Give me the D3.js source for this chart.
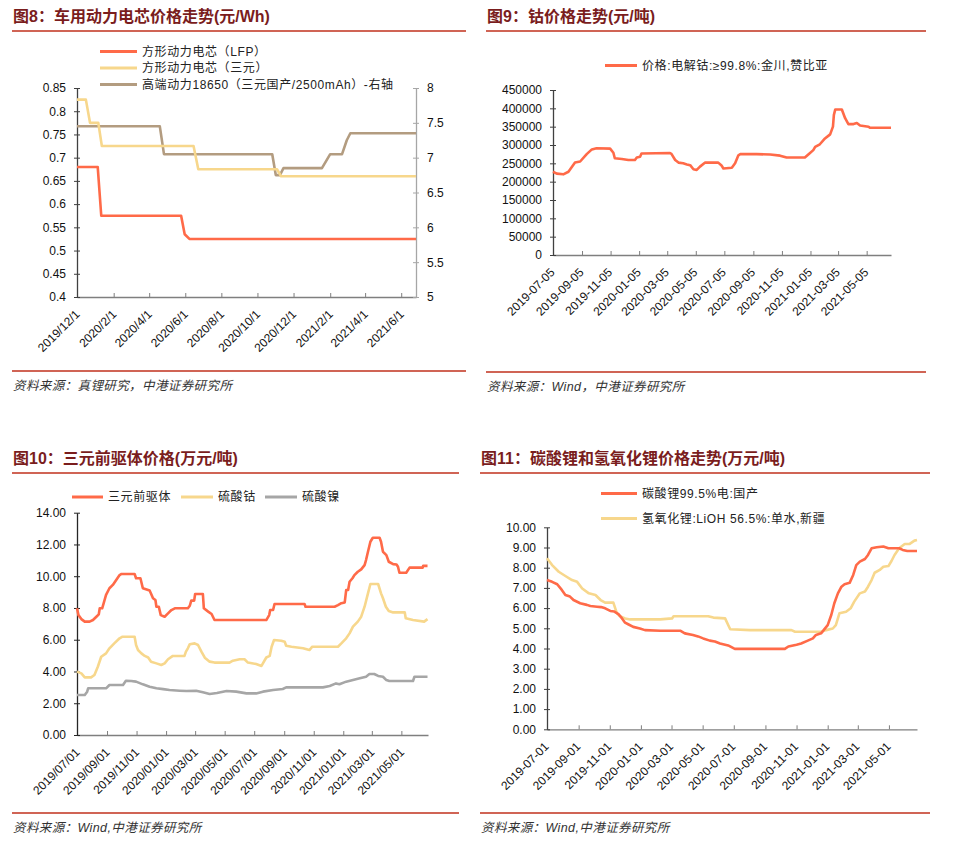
<!DOCTYPE html>
<html lang="zh">
<head>
  <meta charset="UTF-8" />
  <title>电池材料价格走势</title>
  <script src="https://d3js.org/d3.v7.min.js"></script>
  <style>
    html, body { margin: 0; padding: 0; background: #fff; }
    svg { display: block; }
  </style>
</head>
<body>
  <svg id="chart" width="960" height="851"></svg>

  <script>
    // ---- 图8 车用动力电芯价格 ----
    const fig8Domain = ["2019-12-01", "2021-06-26"];
    const fig8Ticks = ["2019-12-01", "2020-02-01", "2020-04-01", "2020-06-01", "2020-08-01",
      "2020-10-01", "2020-12-01", "2021-02-01", "2021-04-01", "2021-06-01"];
    const fig8LeftTicks = [0.4, 0.45, 0.5, 0.55, 0.6, 0.65, 0.7, 0.75, 0.8, 0.85];
    const fig8RightTicks = [5, 5.5, 6, 6.5, 7, 7.5, 8];
    const fig8Names = ["方形动力电芯（LFP）", "方形动力电芯（三元）", "高端动力18650（三元国产/2500mAh）-右轴"];
    const fig8Lfp = [["2019-12-01", 0.68], ["2020-01-05", 0.68], ["2020-01-11", 0.575], ["2020-05-25", 0.575],
      ["2020-05-31", 0.535], ["2020-06-08", 0.525], ["2021-06-26", 0.525]];
    const fig8Ncm = [["2019-12-01", 0.825], ["2019-12-16", 0.825], ["2019-12-23", 0.775], ["2020-01-06", 0.775],
      ["2020-01-12", 0.725], ["2020-06-15", 0.725], ["2020-06-23", 0.675], ["2020-11-03", 0.675],
      ["2020-11-10", 0.66], ["2021-06-26", 0.66]];
    const fig8Cell18650 = [["2019-12-01", 7.45], ["2020-04-19", 7.45], ["2020-04-26", 7.05], ["2020-10-26", 7.05],
      ["2020-11-01", 6.75], ["2020-11-08", 6.75], ["2020-11-14", 6.85], ["2021-01-18", 6.85],
      ["2021-02-01", 7.05], ["2021-02-21", 7.05], ["2021-03-01", 7.25], ["2021-03-07", 7.35], ["2021-06-26", 7.35]];

    // ---- 图9 钴价格 ----
    const fig9Domain = ["2019-07-05", "2021-06-26"];
    const fig9Ticks = ["2019-07-05", "2019-09-05", "2019-11-05", "2020-01-05", "2020-03-05", "2020-05-05",
      "2020-07-05", "2020-09-05", "2020-11-05", "2021-01-05", "2021-03-05", "2021-05-05"];
    const fig9YTicks = [0, 50000, 100000, 150000, 200000, 250000, 300000, 350000, 400000, 450000];
    const fig9Name = "价格:电解钴:≥99.8%:金川,赞比亚";
    const fig9Cobalt = [["2019-07-05", 227000], ["2019-07-13", 222000], ["2019-07-27", 220000], ["2019-08-07", 227000],
      ["2019-08-21", 252000], ["2019-09-01", 255000], ["2019-09-15", 275000], ["2019-09-26", 288000],
      ["2019-10-06", 291000], ["2019-11-04", 290000], ["2019-11-11", 279000], ["2019-11-14", 264000],
      ["2019-11-29", 262000], ["2019-12-13", 259000], ["2019-12-27", 259000], ["2019-12-31", 266000],
      ["2020-01-07", 268000], ["2020-01-10", 277000], ["2020-03-11", 278000], ["2020-03-14", 276000],
      ["2020-03-22", 259000], ["2020-03-29", 252000], ["2020-04-08", 250000], ["2020-04-16", 247000],
      ["2020-04-23", 245000], ["2020-04-30", 234000], ["2020-05-07", 232000], ["2020-05-14", 241000],
      ["2020-05-25", 252000], ["2020-06-22", 252000], ["2020-06-29", 244000], ["2020-07-03", 236000],
      ["2020-07-21", 238000], ["2020-07-28", 250000], ["2020-08-04", 272000], ["2020-08-08", 275000],
      ["2020-09-12", 275000], ["2020-10-11", 274000], ["2020-11-01", 271000], ["2020-11-15", 266000],
      ["2020-12-24", 266000], ["2021-01-01", 275000], ["2021-01-11", 286000], ["2021-01-15", 295000],
      ["2021-01-25", 302000], ["2021-02-05", 318000], ["2021-02-16", 329000], ["2021-02-22", 350000],
      ["2021-02-24", 382000], ["2021-02-27", 397000], ["2021-03-13", 397000], ["2021-03-20", 373000],
      ["2021-03-27", 357000], ["2021-04-07", 357000], ["2021-04-14", 360000], ["2021-04-21", 353000],
      ["2021-05-09", 350000], ["2021-05-12", 347000], ["2021-06-26", 347000]];

    // ---- 图10 三元前驱体价格 ----
    const fig10Domain = ["2019-07-01", "2021-06-25"];
    const fig10Ticks = ["2019-07-01", "2019-09-01", "2019-11-01", "2020-01-01", "2020-03-01", "2020-05-01",
      "2020-07-01", "2020-09-01", "2020-11-01", "2021-01-01", "2021-03-01", "2021-05-01"];
    const fig10YTicks = [0, 2, 4, 6, 8, 10, 12, 14];
    const fig10Names = ["三元前驱体", "硫酸钴", "硫酸镍"];
    const fig10Precursor = [["2019-07-01", 7.98], ["2019-07-04", 7.55], ["2019-07-10", 7.3], ["2019-07-17", 7.14],
      ["2019-07-27", 7.14], ["2019-08-03", 7.24], ["2019-08-10", 7.45], ["2019-08-15", 7.6], ["2019-08-17", 7.98],
      ["2019-08-22", 7.98], ["2019-08-25", 8.29], ["2019-08-30", 8.82], ["2019-09-06", 9.24], ["2019-09-13", 9.45],
      ["2019-09-20", 9.76], ["2019-09-27", 10.07], ["2019-10-01", 10.14], ["2019-10-28", 10.14], ["2019-10-31", 9.87],
      ["2019-11-09", 9.87], ["2019-11-14", 9.24], ["2019-11-28", 9.1], ["2019-12-01", 8.9], ["2019-12-05", 8.61],
      ["2019-12-10", 8.5], ["2019-12-12", 8.08], ["2019-12-17", 8.08], ["2019-12-21", 7.55], ["2019-12-29", 7.45],
      ["2020-01-05", 7.66], ["2020-01-12", 7.87], ["2020-01-19", 7.98], ["2020-02-15", 7.98], ["2020-02-19", 8.14],
      ["2020-02-22", 8.46], ["2020-02-28", 8.46], ["2020-03-01", 8.88], ["2020-03-17", 8.88], ["2020-03-19", 7.98],
      ["2020-03-28", 7.77], ["2020-04-04", 7.62], ["2020-04-10", 7.24], ["2020-07-26", 7.24], ["2020-08-01", 7.55],
      ["2020-08-03", 7.87], ["2020-08-09", 7.87], ["2020-08-12", 8.25], ["2020-10-13", 8.25], ["2020-10-15", 8.08],
      ["2020-12-14", 8.08], ["2020-12-21", 8.18], ["2020-12-28", 8.3], ["2021-01-04", 8.35], ["2021-01-07", 9.13],
      ["2021-01-11", 9.13], ["2021-01-14", 9.65], ["2021-01-20", 9.87], ["2021-01-24", 10.07], ["2021-01-31", 10.28],
      ["2021-02-07", 10.43], ["2021-02-14", 10.7], ["2021-02-17", 11.02], ["2021-02-21", 11.54], ["2021-02-26", 12.17],
      ["2021-03-03", 12.42], ["2021-03-17", 12.42], ["2021-03-20", 12.17], ["2021-03-24", 11.54], ["2021-03-31", 11.33],
      ["2021-04-05", 10.91], ["2021-04-14", 10.76], ["2021-04-21", 10.74], ["2021-04-24", 10.6], ["2021-04-27", 10.22],
      ["2021-05-11", 10.22], ["2021-05-18", 10.54], ["2021-06-14", 10.54], ["2021-06-15", 10.65], ["2021-06-24", 10.65]];
    const fig10CoSulfate = [["2019-07-01", 3.99], ["2019-07-10", 3.88], ["2019-07-17", 3.63], ["2019-07-30", 3.63],
      ["2019-08-06", 3.78], ["2019-08-13", 4.3], ["2019-08-20", 4.93], ["2019-08-30", 5.14], ["2019-09-06", 5.46],
      ["2019-09-16", 5.77], ["2019-09-27", 6.09], ["2019-10-03", 6.19], ["2019-10-28", 6.19], ["2019-10-31", 5.67],
      ["2019-11-04", 5.35], ["2019-11-11", 5.14], ["2019-11-18", 4.98], ["2019-11-25", 4.88], ["2019-12-01", 4.62],
      ["2019-12-12", 4.51], ["2019-12-22", 4.41], ["2019-12-29", 4.51], ["2020-01-05", 4.77], ["2020-01-15", 4.98],
      ["2020-02-08", 4.98], ["2020-02-11", 5.25], ["2020-02-15", 5.46], ["2020-02-19", 5.72], ["2020-02-29", 5.77],
      ["2020-03-07", 5.67], ["2020-03-14", 5.25], ["2020-03-21", 4.87], ["2020-03-31", 4.62], ["2020-04-10", 4.56],
      ["2020-05-11", 4.56], ["2020-05-18", 4.68], ["2020-06-01", 4.77], ["2020-06-11", 4.77], ["2020-06-18", 4.56],
      ["2020-07-05", 4.47], ["2020-07-16", 4.35], ["2020-07-19", 4.51], ["2020-07-26", 4.88], ["2020-08-02", 4.98],
      ["2020-08-06", 5.56], ["2020-08-11", 5.98], ["2020-08-26", 5.94], ["2020-09-02", 5.88], ["2020-09-05", 5.62],
      ["2020-09-16", 5.56], ["2020-10-10", 5.46], ["2020-10-23", 5.35], ["2020-10-29", 5.56], ["2020-12-21", 5.56],
      ["2020-12-28", 5.77], ["2021-01-07", 6.09], ["2021-01-14", 6.4], ["2021-01-21", 6.82], ["2021-01-31", 7.14],
      ["2021-02-07", 7.45], ["2021-02-14", 8.08], ["2021-02-21", 8.92], ["2021-02-26", 9.51], ["2021-03-14", 9.51],
      ["2021-03-20", 8.92], ["2021-03-24", 8.61], ["2021-03-30", 8.08], ["2021-04-05", 7.81], ["2021-04-14", 7.72],
      ["2021-05-08", 7.72], ["2021-05-10", 7.35], ["2021-05-25", 7.24], ["2021-06-17", 7.14], ["2021-06-24", 7.3]];
    const fig10NiSulfate = [["2019-07-01", 2.52], ["2019-07-17", 2.52], ["2019-07-22", 2.73], ["2019-07-24", 2.94],
      ["2019-08-30", 2.94], ["2019-09-06", 3.15], ["2019-10-04", 3.15], ["2019-10-10", 3.42], ["2019-10-21", 3.4],
      ["2019-10-31", 3.36], ["2019-11-14", 3.19], ["2019-11-28", 3.04], ["2019-12-12", 2.94], ["2019-12-26", 2.89],
      ["2020-01-08", 2.83], ["2020-01-29", 2.79], ["2020-02-12", 2.77], ["2020-03-03", 2.79], ["2020-03-17", 2.69],
      ["2020-03-31", 2.58], ["2020-04-15", 2.65], ["2020-05-05", 2.77], ["2020-05-25", 2.73], ["2020-06-15", 2.62],
      ["2020-07-05", 2.62], ["2020-07-19", 2.73], ["2020-08-09", 2.83], ["2020-08-29", 2.9], ["2020-09-05", 3.0],
      ["2020-11-20", 3.0], ["2020-12-04", 3.09], ["2020-12-17", 3.25], ["2020-12-24", 3.2], ["2021-01-07", 3.36],
      ["2021-01-21", 3.46], ["2021-02-04", 3.57], ["2021-02-17", 3.67], ["2021-02-24", 3.84], ["2021-03-06", 3.84],
      ["2021-03-14", 3.72], ["2021-03-24", 3.67], ["2021-03-31", 3.46], ["2021-04-06", 3.4], ["2021-05-25", 3.4],
      ["2021-05-28", 3.67], ["2021-06-24", 3.67]];

    // ---- 图11 碳酸锂和氢氧化锂价格 ----
    const fig11Domain = ["2019-07-01", "2021-06-25"];
    const fig11Ticks = fig10Ticks;
    const fig11YTicks = [0, 1, 2, 3, 4, 5, 6, 7, 8, 9, 10];
    const fig11Names = ["碳酸锂99.5%电:国产", "氢氧化锂:LiOH 56.5%:单水,新疆"];
    const fig11Li2co3 = [["2019-07-01", 7.39], ["2019-07-11", 7.3], ["2019-07-21", 7.18], ["2019-07-30", 6.9],
      ["2019-08-06", 6.65], ["2019-08-15", 6.57], ["2019-08-22", 6.4], ["2019-09-04", 6.24], ["2019-09-17", 6.16],
      ["2019-09-24", 6.1], ["2019-10-07", 6.07], ["2019-10-15", 6.05], ["2019-10-23", 5.99], ["2019-11-02", 5.86],
      ["2019-11-10", 5.83], ["2019-11-18", 5.7], ["2019-11-25", 5.49], ["2019-12-01", 5.28], ["2019-12-07", 5.2],
      ["2019-12-17", 5.07], ["2019-12-30", 4.99], ["2020-01-09", 4.91], ["2020-02-08", 4.88], ["2020-03-18", 4.88],
      ["2020-03-27", 4.75], ["2020-04-12", 4.67], ["2020-04-22", 4.6], ["2020-05-02", 4.5], ["2020-05-15", 4.39],
      ["2020-05-25", 4.35], ["2020-06-04", 4.25], ["2020-06-20", 4.15], ["2020-07-03", 3.98], ["2020-10-09", 3.98],
      ["2020-10-16", 4.1], ["2020-11-01", 4.19], ["2020-11-10", 4.25], ["2020-11-23", 4.39], ["2020-12-03", 4.5],
      ["2020-12-09", 4.67], ["2020-12-19", 4.75], ["2021-01-01", 5.16], ["2021-01-08", 5.66], ["2021-01-14", 6.24],
      ["2021-01-21", 6.73], ["2021-01-28", 7.06], ["2021-02-03", 7.18], ["2021-02-13", 7.25], ["2021-02-20", 7.64],
      ["2021-02-26", 8.13], ["2021-03-05", 8.3], ["2021-03-15", 8.43], ["2021-03-21", 8.63], ["2021-03-28", 8.96],
      ["2021-04-07", 9.01], ["2021-04-20", 9.05], ["2021-04-30", 8.96], ["2021-05-21", 8.96], ["2021-05-28", 8.88],
      ["2021-06-06", 8.83], ["2021-06-25", 8.83]];
    const fig11Lioh = [["2019-07-01", 8.47], ["2019-07-11", 8.13], ["2019-07-24", 7.8], ["2019-08-06", 7.59],
      ["2019-08-19", 7.39], ["2019-08-29", 7.3], ["2019-09-08", 6.97], ["2019-09-21", 6.73], ["2019-10-04", 6.65],
      ["2019-10-14", 6.4], ["2019-10-23", 6.27], ["2019-11-08", 6.27], ["2019-11-15", 5.74], ["2019-11-21", 5.6],
      ["2019-12-01", 5.49], ["2019-12-11", 5.44], ["2020-02-08", 5.44], ["2020-03-02", 5.49], ["2020-03-05", 5.6],
      ["2020-05-12", 5.6], ["2020-05-22", 5.53], ["2020-06-14", 5.49], ["2020-06-20", 5.16], ["2020-06-24", 4.95],
      ["2020-08-02", 4.91], ["2020-10-22", 4.91], ["2020-10-29", 4.83], ["2020-12-19", 4.83], ["2020-12-29", 4.91],
      ["2021-01-11", 4.99], ["2021-01-17", 5.16], ["2021-01-24", 5.74], ["2021-02-06", 5.82], ["2021-02-15", 5.99],
      ["2021-02-22", 6.32], ["2021-03-05", 6.73], ["2021-03-15", 6.82], ["2021-03-21", 7.06], ["2021-03-28", 7.39],
      ["2021-04-03", 7.75], ["2021-04-13", 7.89], ["2021-04-20", 8.05], ["2021-04-30", 8.08], ["2021-05-06", 8.33],
      ["2021-05-12", 8.63], ["2021-05-21", 8.96], ["2021-06-01", 9.17], ["2021-06-10", 9.17], ["2021-06-20", 9.34],
      ["2021-06-25", 9.37]];

    const RED = "#ff6a48", YELLOW = "#f7d78c", BROWN = "#b39c80", GREY = "#a6a6a6";
    const LATIN = "'Liberation Sans', Arial, 'Noto Sans CJK SC', sans-serif";

    const svg = d3.select("#chart");
    const parse = d3.timeParse("%Y-%m-%d");

    // title, red rules and source line of one panel
    function frame(left, right, top, bottom, title, source) {
      svg.append("text")
        .attr("x", left + 1).attr("y", top)
        .attr("font-family", LATIN).attr("font-size", 16).attr("font-weight", "bold")
        .attr("fill", "#7a1d1d").text(title);
      svg.append("line").attr("x1", left).attr("x2", right).attr("y1", top + 9).attr("y2", top + 9)
        .attr("stroke", "#c0301c").attr("stroke-width", 1.5);
      svg.append("line").attr("x1", left).attr("x2", right).attr("y1", bottom).attr("y2", bottom)
        .attr("stroke", "#c0301c").attr("stroke-width", 1.5);
      svg.append("text")
        .attr("x", left + 1).attr("y", bottom + 19)
        .attr("font-family", LATIN).attr("font-size", 12.5).attr("font-style", "italic")
        .attr("letter-spacing", 0.4)
        .attr("fill", "#333").text(source);
    }

    function xAxis(x, y0, ticks, fmt, dx) {
      const ax = svg.append("g").attr("transform", `translate(0,${y0})`)
        .call(d3.axisBottom(x).tickValues(ticks.map(parse)).tickFormat(fmt)
          .tickSizeInner(-4).tickSizeOuter(0));
      ax.select(".domain").attr("stroke", "#7f7f7f").attr("stroke-width", 1.3);
      ax.selectAll(".tick line").attr("stroke", "#7f7f7f");
      ax.selectAll(".tick text")
        .attr("x", 0).attr("y", 0).attr("dy", 0)
        .attr("text-anchor", "end")
        .attr("transform", `translate(${dx},18) rotate(-45)`)
        .attr("font-family", LATIN).attr("font-size", 12).attr("fill", "#111");
      return ax;
    }

    function yAxis(y, x0, ticks, fmt, side, color) {
      const axis = side === "left" ? d3.axisLeft(y) : d3.axisRight(y);
      const ax = svg.append("g").attr("transform", `translate(${x0},0)`)
        .call(axis.tickValues(ticks).tickFormat(fmt).tickSizeOuter(0));
      ax.select(".domain").attr("stroke", color).attr("stroke-width", 1.3);
      ax.selectAll(".tick line").attr("x1", -3).attr("x2", 3).attr("stroke", color);
      ax.selectAll(".tick text")
        .attr("x", side === "left" ? -11 : 11)
        .attr("font-family", LATIN).attr("font-size", 12).attr("fill", "#111");
      return ax;
    }

    function series(data, x, y, color) {
      svg.append("path")
        .datum(data)
        .attr("fill", "none")
        .attr("stroke", color)
        .attr("stroke-width", 2.6)
        .attr("stroke-linejoin", "round")
        .attr("d", d3.line().x(d => x(parse(d[0]))).y(d => y(d[1])));
    }

    function legendItem(x1, x2, y, color, label) {
      svg.append("line").attr("x1", x1).attr("x2", x2).attr("y1", y).attr("y2", y)
        .attr("stroke", color).attr("stroke-width", 3);
      svg.append("text").attr("x", x2 + 5).attr("y", y).attr("dy", "0.35em")
        .attr("font-family", LATIN).attr("font-size", 12).attr("letter-spacing", 0.6)
        .attr("fill", "#222").text(label);
    }

    const slashDate = d => `${d.getFullYear()}/${d.getMonth() + 1}/${d.getDate()}`;

    // ===== 图8 =====
    frame(12, 466, 22, 371, "图8：车用动力电芯价格走势(元/Wh)", "资料来源：真锂研究，中港证券研究所");
    {
      const x = d3.scaleTime().domain(fig8Domain.map(parse)).range([77, 416]);
      const yL = d3.scaleLinear().domain([0.4, 0.85]).range([297, 88]);
      const yR = d3.scaleLinear().domain([5, 8]).range([297, 88]);
      xAxis(x, 297, fig8Ticks, slashDate, 3);
      yAxis(yL, 77, fig8LeftTicks, d => String(+d.toFixed(2)), "left", "#404040");
      yAxis(yR, 416, fig8RightTicks, d => String(d), "right", "#a6a6a6");
      series(fig8Cell18650, x, yR, BROWN);
      series(fig8Ncm, x, yL, YELLOW);
      series(fig8Lfp, x, yL, RED);
      legendItem(100, 137, 51.5, RED, fig8Names[0]);
      legendItem(100, 137, 68, YELLOW, fig8Names[1]);
      legendItem(100, 137, 84.5, BROWN, fig8Names[2]);
    }

    // ===== 图9 =====
    frame(486, 926, 22, 372, "图9：钴价格走势(元/吨)", "资料来源：Wind，中港证券研究所");
    {
      const x = d3.scaleTime().domain(fig9Domain.map(parse)).range([553, 891]);
      const y = d3.scaleLinear().domain([0, 450000]).range([255, 90]);
      xAxis(x, 255, fig9Ticks, d3.timeFormat("%Y-%m-%d"), 2);
      yAxis(y, 553, fig9YTicks, d3.format("d"), "left", "#404040");
      series(fig9Cobalt, x, y, RED);
      legendItem(605, 637, 65.5, RED, fig9Name);
    }

    // ===== 图10 =====
    frame(12, 459, 464, 813, "图10：三元前驱体价格(万元/吨)", "资料来源：Wind,中港证券研究所");
    {
      const x = d3.scaleTime().domain(fig10Domain.map(parse)).range([77, 428]);
      const y = d3.scaleLinear().domain([0, 14]).range([735, 512.7]);
      xAxis(x, 735, fig10Ticks, d3.timeFormat("%Y/%m/%d"), 3);
      yAxis(y, 77, fig10YTicks, d3.format(".2f"), "left", "#262626");
      series(fig10NiSulfate, x, y, GREY);
      series(fig10CoSulfate, x, y, YELLOW);
      series(fig10Precursor, x, y, RED);
      legendItem(72, 103, 497, RED, fig10Names[0]);
      legendItem(181, 213, 497, YELLOW, fig10Names[1]);
      legendItem(265, 297, 497, GREY, fig10Names[2]);
    }

    // ===== 图11 =====
    frame(480, 930, 464, 813, "图11：碳酸锂和氢氧化锂价格走势(万元/吨)", "资料来源：Wind,中港证券研究所");
    {
      const x = d3.scaleTime().domain(fig11Domain.map(parse)).range([547, 917]);
      const y = d3.scaleLinear().domain([0, 10]).range([729.3, 527.3]);
      xAxis(x, 729.3, fig11Ticks, d3.timeFormat("%Y-%m-%d"), 2);
      yAxis(y, 547, fig11YTicks, d3.format(".2f"), "left", "#404040");
      series(fig11Lioh, x, y, YELLOW);
      series(fig11Li2co3, x, y, RED);
      legendItem(601, 637, 493.5, RED, fig11Names[0]);
      legendItem(601, 637, 518.5, YELLOW, fig11Names[1]);
    }
  </script>
</body>
</html>
